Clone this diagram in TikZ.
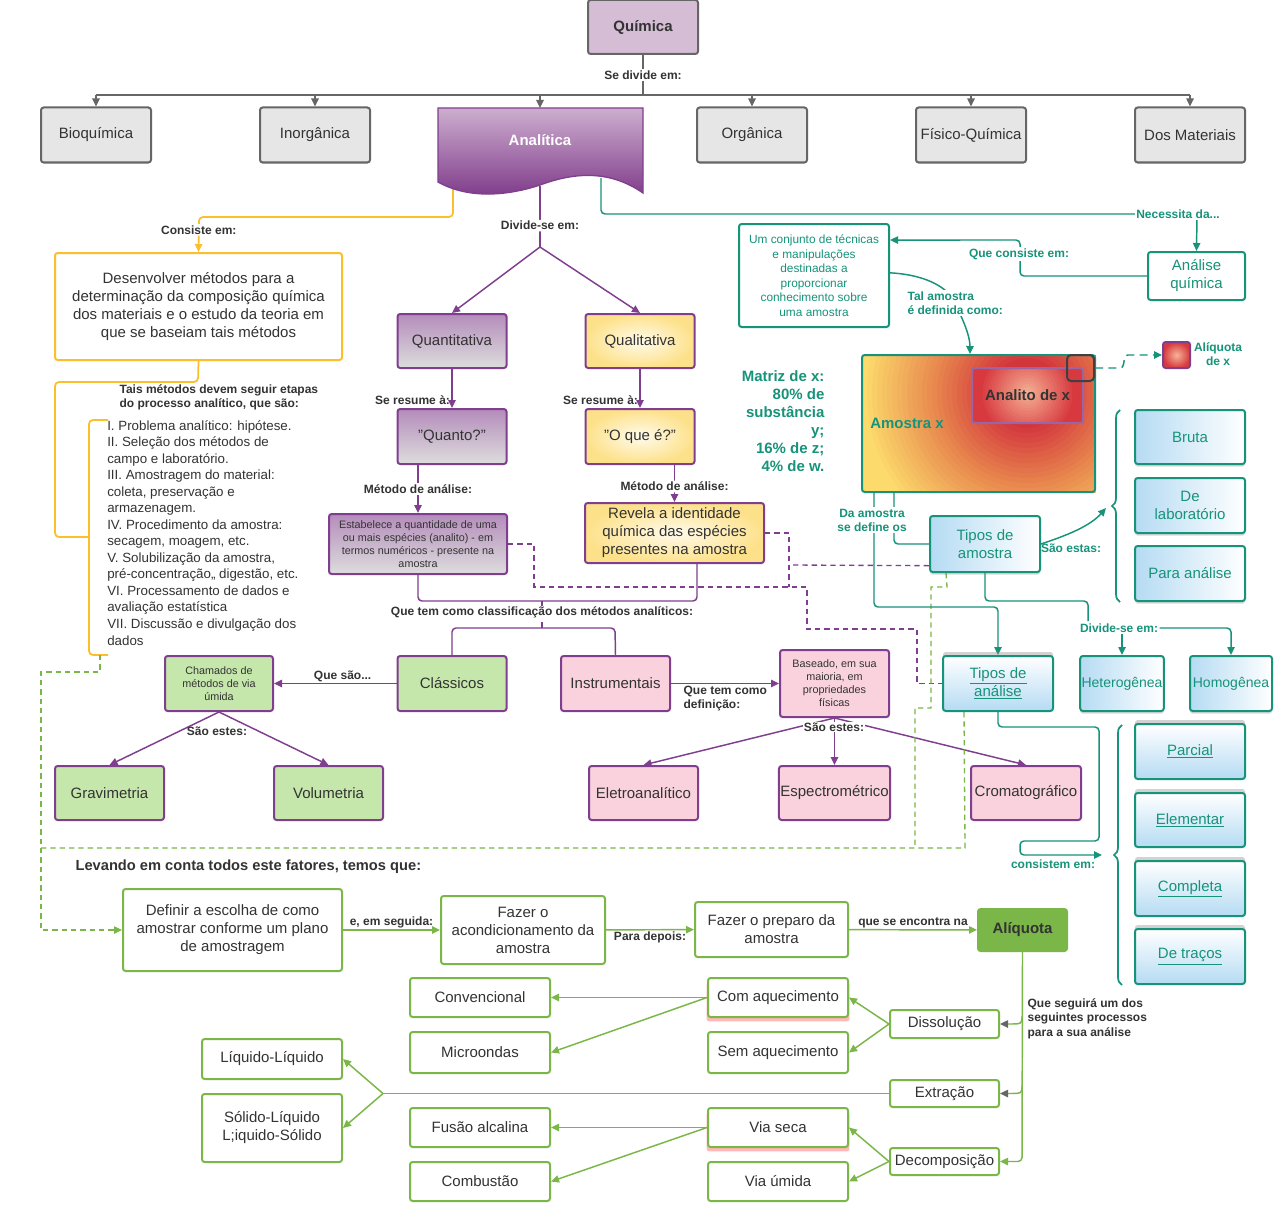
\documentclass[tikz,border=0pt]{standalone}
\usepackage{fontspec}
\setmainfont{Liberation Sans}
\usepackage{tikz}
\usetikzlibrary{calc,positioning,arrows.meta,shadows,backgrounds,decorations.pathreplacing}

\definecolor{purp}{HTML}{7F3F8E}
\definecolor{teal2}{HTML}{17937A}
\definecolor{yel}{HTML}{FBBF2E}
\definecolor{grn}{HTML}{7AB648}
\definecolor{txt}{HTML}{333333}
\definecolor{graybd}{HTML}{666666}
\definecolor{grayfill}{HTML}{E6E6E6}
\definecolor{lilac}{HTML}{D6BDD6}
\definecolor{anatop}{HTML}{CDAECF}
\definecolor{anabot}{HTML}{7C3787}
\definecolor{quanttop}{HTML}{B48CBB}
\definecolor{quantbot}{HTML}{DDDDDD}
\definecolor{qualin}{HTML}{FFFBEC}
\definecolor{qualout}{HTML}{FDE18A}
\definecolor{lgreen}{HTML}{C6E7AB}
\definecolor{pink}{HTML}{F9D2DE}
\definecolor{lblue}{HTML}{B5DBF3}
\definecolor{amred}{HTML}{D3353D}
\definecolor{amorange}{HTML}{E8884E}
\definecolor{amyellow}{HTML}{FCDA6C}
\definecolor{anlin}{HTML}{F6B497}
\definecolor{anlout}{HTML}{D7393F}

\newcommand\boxfont{\fontsize{11.25}{13.5}\selectfont}
\newcommand\smallbox{\fontsize{8.1}{9.7}\selectfont}
\newcommand\lblfont{\fontsize{9}{10.5}\selectfont\bfseries}

\tikzset{
  sz/.style 2 args={minimum width=#1*0.75pt, minimum height=#2*0.75pt},
  box/.style={draw, rounded corners=2pt, line width=1.5pt, align=center, font=\boxfont, text=txt, inner sep=1pt},
  graybox/.style={box, draw=graybd, fill=grayfill},
  quantbox/.style={box, draw=purp, top color=quanttop, bottom color=quantbot},
  qualbox/.style={box, draw=purp, inner color=qualin, outer color=qualout},
  classbox/.style={box, draw=purp, fill=lgreen},
  instbox/.style={box, draw=purp, fill=pink},
  tealbox/.style={box, draw=teal2, fill=white, text=teal2},
  blueside/.style={box, draw=teal2, left color=lblue, right color=white, text=teal2, drop shadow={shadow xshift=0pt, shadow yshift=-2pt, opacity=.3}},
  bluedown/.style={box, draw=teal2, top color=white, bottom color=lblue, text=teal2, drop shadow={shadow xshift=0pt, shadow yshift=3pt, opacity=.35}},
  grnbox/.style={box, draw=grn, fill=white},
  glowbox/.style={grnbox, drop shadow={shadow xshift=0pt, shadow yshift=-3pt, shadow scale=1.02, fill=red!80, opacity=.35}},
  lbl/.style={font=\lblfont, text=txt, inner sep=1pt, align=center},
  tlbl/.style={lbl, text=teal2},
  arr/.style={-{Triangle[length=6pt,width=5.5pt]}},
  grayarr/.style={-{Triangle[length=6pt,width=5.5pt,color=graybd]}},
  kline/.style={draw=graybd, line width=1.1pt},
  pline/.style={draw=purp, line width=1.1pt, rounded corners=3pt},
  pdash/.style={draw=purp, line width=1pt, dash pattern=on 4pt off 3pt},
  tline/.style={draw=teal2, line width=1.1pt, rounded corners=3pt},
  yline/.style={draw=yel, line width=1.3pt, rounded corners=3pt},
  gline/.style={draw=grn, line width=1.1pt, rounded corners=3pt},
  gdash/.style={draw=grn, line width=1pt, dash pattern=on 4pt off 3pt},
  brc/.style={draw=teal2, line width=1.3pt, decorate, decoration={brace, amplitude=6pt}},
}

\begin{document}
\begin{tikzpicture}[x=0.75pt, y=-0.75pt]
        \useasboundingbox (0,0) rectangle (1280,1220);

        \node[graybox, fill=lilac, font=\boxfont\bfseries, sz={110}{54}] (quimica) at (643,27) {Química};
        \node[graybox, sz={110}{55}] (bioq) at (96,135) {Bioquímica};
        \node[graybox, sz={110}{55}] (inorg) at (315,135) {Inorgânica};
        \node[graybox, sz={110}{55}] (orga) at (752,135) {Orgânica};
        \node[graybox, sz={110}{55}] (fisq) at (971,135) {Físico-Química};
        \node[graybox, sz={110}{55}] (dosm) at (1190,135) {Dos Materiais};

        \shade[draw=purp, line width=1pt, top color=anatop, bottom color=anabot] (438,108) -- (643,108) -- (643,193) .. controls (610,170) and (575,172) .. (540,185) .. controls (510,195) and (470,200) .. (438,182) -- cycle;
        \node[font=\boxfont\bfseries, text=white] (analitica) at (540,140) {Analítica};
        \coordinate (anaN) at (540,108);
        \coordinate (anaY) at (453,186);
        \coordinate (anaP) at (540,186);
        \coordinate (anaT) at (601,178);

        \node[box, draw=yel, fill=white, sz={287}{107}] (desenv) at (198.5,306.5) {Desenvolver métodos para a\\determinação da composição química\\dos materiais e o estudo da teoria em\\que se baseiam tais métodos};
        \node[lbl, align=left, anchor=west] (tais) at (118,397) {Tais métodos devem seguir etapas\\do processo analítico, que são:};
        \node[anchor=north west, align=left, font=\fontsize{10}{12.4}\selectfont, text=txt, inner sep=0pt] (etapas) at (107,420) {I. Problema analítico: hipótese.\\II. Seleção dos métodos de\\campo e laboratório.\\III. Amostragem do material:\\coleta, preservação e\\armazenagem.\\IV. Procedimento da amostra:\\secagem, moagem, etc.\\V. Solubilização da amostra,\\pré-concentração,, digestão, etc.\\VI. Processamento de dados e\\avaliação estatística\\VII. Discussão e divulgação dos\\dados};
        \coordinate (etapasb) at (100,655);

        \node[quantbox, sz={109}{54}] (quanti) at (452,341) {Quantitativa};
        \node[quantbox, sz={109}{55}] (quanto) at (452,436.5) {"Quanto?"};
        \node[quantbox, sz={178}{60}, font=\smallbox] (estab) at (418,544) {Estabelece a quantidade de uma\\ou mais espécies (analito) - em\\termos numéricos - presente na\\amostra};
        \node[qualbox, sz={109}{54}] (quali) at (640,341) {Qualitativa};
        \node[qualbox, sz={109}{55}] (oque) at (640,436.5) {"O que é?"};
        \node[qualbox, sz={179}{60}] (revela) at (674.5,533) {Revela a identidade\\química das espécies\\presentes na amostra};
        \coordinate (revb) at (697,563);

        \node[classbox, sz={109}{55}] (classicos) at (452,683.5) {Clássicos};
        \node[instbox, sz={109}{55}] (instr) at (615.5,683.5) {Instrumentais};
        \node[classbox, sz={108}{55}, font=\smallbox] (chamados) at (219,683.5) {Chamados de\\métodos de via\\úmida};
        \node[classbox, sz={109}{54}] (gravi) at (109.5,793) {Gravimetria};
        \node[classbox, sz={109}{54}] (volu) at (328.5,793) {Volumetria};
        \node[instbox, sz={109}{67}, font=\smallbox] (baseado) at (834.5,683.5) {Baseado, em sua\\maioria, em\\propriedades\\físicas};
        \node[instbox, sz={109}{54}] (eletro) at (643.5,793) {Eletroanalítico};
        \node[instbox, sz={109}{54}] (espec) at (834.5,793) {Espectrométrico};
        \node[instbox, sz={110}{54}] (croma) at (1026,793) {Cromatográfico};

        \node[tealbox, sz={150}{103}, font=\fontsize{8.9}{10.9}\selectfont] (umconj) at (814,275.5) {Um conjunto de técnicas\\e manipulações\\destinadas a\\proporcionar\\conhecimento sobre\\uma amostra};
        \node[tealbox, sz={97}{48}] (analq) at (1196.5,276) {Análise\\química};

        \begin{scope}
            \clip (862,355) rectangle (1095,492);
            \fill[amyellow] (862,355) rectangle (1095,492);
            \foreach \r in {175,170,...,0} {
                \pgfmathsetmacro\pa{max(0,min(100,(\r-95)/70*100))}
                \pgfmathsetmacro\pb{max(0,min(100,(\r-35)/60*100))}
                \fill[amyellow!\pa!amorange!\pb!amred] (1027,393) circle[radius=\r*0.75pt];
            }
        \end{scope}
        \node[draw=teal2, line width=1.5pt, rounded corners=2pt, sz={233}{137}] (amostra) at (978.5,423.5) {};
        \node[tlbl, font=\boxfont\bfseries] (amostrax) at (907,423) {Amostra x};
        \begin{scope}
            \clip (972,368) rectangle (1083,423);
            \fill[anlout] (972,368) rectangle (1083,423);
            \foreach \r in {48,45,...,0} {
                \pgfmathsetmacro\pa{max(0,min(100,\r/48*100))}
                \fill[anlout!\pa!anlin] (1027.5,393) circle[radius=\r*0.75pt];
            }
        \end{scope}
        \node[draw=purp!80, line width=1.5pt, rounded corners=2pt, sz={111}{55}, font=\boxfont\bfseries, text=txt] (analito) at (1027.5,395.5) {Analito de x};
        \node[draw=black!75, line width=1.5pt, rounded corners=3pt, sz={27}{26}] (smallsq) at (1080.5,368) {};
        \node[draw=purp, line width=1.5pt, rounded corners=2pt, inner color=anlin, outer color=anlout, sz={27}{26}] (aliqx) at (1176.5,355) {};
        \node[tlbl] (aliqxl) at (1218,354) {Alíquota\\de x};
        \node[tlbl, font=\fontsize{11.25}{13.5}\selectfont\bfseries, align=right, anchor=east] (matriz) at (826,421) {Matriz de x:\\80\% de\\substância\\y;\\16\% de z;\\4\% de w.};
        \coordinate (am1) at (874,492);
        \coordinate (am2) at (894,492);

        \node[blueside, sz={110}{56}] (tiposam) at (985,544) {Tipos de\\amostra};
        \node[blueside, sz={110}{54}] (bruta) at (1190,437) {Bruta};
        \node[blueside, sz={110}{55}] (delab) at (1190,505.5) {De\\laboratório};
        \node[blueside, sz={110}{55}] (paraan) at (1190,573.5) {Para análise};
        \node[bluedown, sz={110}{55}] (tiposan) at (998,683.5) {\underline{Tipos de}\\\underline{análise}};
        \node[blueside, sz={82}{55}, font=\fontsize{10.5}{12.6}\selectfont] (hetero) at (1122,683.5) {Heterogênea};
        \node[blueside, sz={82}{55}, font=\fontsize{10.5}{12.6}\selectfont] (homo) at (1231,683.5) {Homogênea};
        \node[bluedown, sz={110}{55}] (parcial) at (1190,751.5) {\underline{Parcial}};
        \node[bluedown, sz={110}{54}] (elem) at (1190,820) {\underline{Elementar}};
        \node[bluedown, sz={110}{55}] (compl) at (1190,888.5) {\underline{Completa}};
        \node[bluedown, sz={110}{55}] (detr) at (1190,956.5) {\underline{De traços}};

        \node[lbl, font=\fontsize{11}{13}\selectfont\bfseries, anchor=west] (levando) at (74,867) {Levando em conta todos este fatores, temos que:};
        \node[grnbox, sz={219}{82}] (definir) at (232.5,930) {Definir a escolha de como\\amostrar conforme um plano\\de amostragem};
        \node[grnbox, sz={164}{68}] (acond) at (523,930) {Fazer o\\acondicionamento da\\amostra};
        \node[grnbox, sz={153}{55}] (preparo) at (771.5,929.5) {Fazer o preparo da\\amostra};
        \node[box, draw=grn, fill=grn, font=\boxfont\bfseries, sz={89}{42}] (aliquota) at (1022.5,930) {Alíquota};
        \node[lbl, font=\fontsize{9}{10.9}\selectfont\bfseries, align=left, anchor=north west] (processos) at (1026,997) {Que seguirá um dos\\seguintes processos\\para a sua análise};

        \node[grnbox, sz={109}{28}] (dissol) at (944.5,1024) {Dissolução};
        \node[grnbox, sz={109}{27}] (extra) at (944.5,1093.5) {Extração};
        \node[grnbox, sz={109}{27}] (decomp) at (944.5,1161.5) {Decomposição};
        \node[glowbox, sz={140}{39}] (comaq) at (778,997.5) {Com aquecimento};
        \node[grnbox, sz={140}{41}] (semaq) at (778,1052.5) {Sem aquecimento};
        \node[grnbox, sz={140}{39}] (conv) at (480,997.5) {Convencional};
        \node[grnbox, sz={140}{41}] (micro) at (480,1052.5) {Microondas};
        \node[glowbox, sz={140}{39}] (viaseca) at (778,1127.5) {Via seca};
        \node[grnbox, sz={140}{39}] (viaum) at (778,1181.5) {Via úmida};
        \node[grnbox, sz={140}{39}] (fusao) at (480,1127.5) {Fusão alcalina};
        \node[grnbox, sz={140}{39}] (combus) at (480,1181.5) {Combustão};
        \node[grnbox, sz={140}{40}] (liqliq) at (272,1059) {Líquido-Líquido};
        \node[grnbox, sz={140}{68}] (solliq) at (272,1128) {Sólido-Líquido\\L;iquido-Sólido};
        \coordinate (extfork) at (383,1093.5);

        \begin{scope}[on background layer]
            \fill[white] (0,0) rectangle (1280,1220);

            \coordinate (bar) at (643,95);
            \draw[kline] (quimica.south) -- node[lbl, fill=white]{Se divide em:} (bar);
            \draw[kline] (bioq.north |- bar) -- (dosm.north |- bar);
            \foreach \n in {bioq,inorg,orga,fisq,dosm}
                \draw[kline, arr] (\n.north |- bar) -- (\n.north);
            \draw[kline, arr] (anaN |- bar) -- (anaN);

            \draw[yline, arr] (anaY) -- (453,217) -- (199,217) -- node[lbl, fill=white, pos=0.37]{Consiste em:} (desenv.north);
            \draw[yline] (desenv.south) -- (198,382) -- (55,382) -- (55,537) -- (89,537);
            \draw[yline] (108,420) -- (89,420) -- (89,655) -- (108,655);

            \coordinate (divq) at (540,247);
            \draw[pline] (anaP) -- node[lbl, fill=white, pos=0.65]{Divide-se em:} (divq);
            \draw[pline, arr] (divq) -- (quanti.north);
            \draw[pline, arr] (divq) -- (quali.north);
            \draw[pline, arr] (quanti) -- node[lbl, left, pos=0.8]{Se resume à:} (quanto);
            \draw[pline, arr] (quanto.south -| estab.north) -- node[lbl, fill=white]{Método de análise:} (estab.north);
            \draw[pline, arr] (quali) -- node[lbl, left, pos=0.8]{Se resume à:} (oque);
            \draw[pline, arr] (oque.south -| revela.north) -- node[lbl, fill=white, pos=0.58]{Método de análise:} (revela.north);

            \draw[pline] (estab.south) -- (418,601) -- (697,601) -- (revb);
            \draw[pline] (542,601) -- (542,606);
            \node[lbl] (classif) at (542,612.5) {Que tem como classificação dos métodos analíticos:};
            \draw[pline] (542,628) -- (542,622);
            \draw[pline] (classicos.north) -- (452,628) -- (615,628) -- (instr.north);

            \draw[pline, arr] (classicos) -- node[lbl, above, pos=0.44]{Que são...} (chamados);
            \draw[pline, arr] (chamados.south) -- (gravi.north);
            \draw[pline, arr] (chamados.south) -- (volu.north);
            \node[lbl] (saoestes) at (217,731) {São estes:};
            \draw[pline, arr] (instr) -- (baseado);
            \node[lbl, align=left, anchor=north west] (quetem) at (682,685) {Que tem como\\definição:};
            \draw[pline, arr] (baseado.south) -- (eletro.north);
            \draw[pline, arr] (baseado.south) -- (espec.north);
            \draw[pline, arr] (baseado.south) -- (croma.north);
            \node[lbl, fill=white, inner sep=0.5pt] (saoestesb) at (834,727) {São estes:};

            \draw[pdash] (estab.east) -- (534,544) -- (534,587) -- (807,587) -- (807,629) -- (917,629) -- (917,683.5) -- (tiposan.west);
            \draw[pdash] (revela.east) -- (789,533) -- (789,587);
            \draw[pdash] ([yshift=5.5pt]tiposam.south west) -- (789,565);

            \draw[gdash, arr] (etapasb) -- (100,672) -- (41,672) -- (41,930) -- (definir.west);
            \draw[gdash] (41,848) -- (965,848) -- ([xshift=16.5pt]tiposan.south west);
            \draw[gdash] ([xshift=12.75pt]tiposam.south west) -- (947,587) -- (931,587) -- (931,708) -- (915,708) -- (915,848);

            \draw[tline, arr] (anaT) -- (601,214) -- (1197,214) -- (analq.north);
            \node[tlbl, fill=white] (necessita) at (1178,214) {Necessita da...};
            \draw[tline, arr] (analq.west) -- (1020,276) -- (1020,240) -- ([yshift=26.6pt]umconj.east);
            \node[tlbl, fill=white] (consiste) at (1019,254) {Que consiste em:};
            \draw[tline, arr] ([yshift=2pt]umconj.east) .. controls (930,275) and (948,290) .. (955,303) .. controls (962,318) and (970,335) .. ([xshift=-6.4pt]amostra.north);
            \node[tlbl, fill=white, align=left, anchor=west] (talam) at (906,303) {Tal amostra\\é definida como:};
            \draw[tline, dash pattern=on 6pt off 4pt, arr] (smallsq.east) -- (1116,368) .. controls (1126,368) and (1122,355) .. (1132,355) -- (aliqx.west);

            \draw[tline, arr] (am1) -- (874,607) -- (998,607) -- (tiposan.north);
            \draw[tline] (am2) -- (894,544) -- (tiposam.west);
            \node[tlbl, fill=white] (daamostra) at (872,520) {Da amostra\\se define os};

            \draw[tline, arr] (tiposam.east) .. controls (1068,535) and (1090,526) .. (1106,508);
            \node[tlbl] (saoestas) at (1071,548) {São estas:};
            \draw[brc] (1120,602) -- (1120,410);
            \node[tlbl] (divlbl) at (1119,628) {Divide-se em:};
            \draw[tline] (tiposam.south) -- (985,601) -- (1088,601) -- (1088,621);
            \draw[tline, arr] (divlbl.south -| hetero.north) -- (hetero.north);
            \draw[tline, arr] (divlbl.east) -| (homo.north);
            \draw[tline, arr] (tiposan.south) -- (998,727) -- (1099,727) -- (1099,841) -- (1020,841) -- (1020,855) -- (1102,855);
            \node[tlbl] (consistem) at (1053,864) {consistem em:};
            \draw[brc] (1122,985) -- (1122,725);

            \draw[gline, arr] (definir) -- node[lbl, above]{e, em seguida:} (acond);
            \draw[gline, arr] (acond) -- node[lbl, below]{Para depois:} (preparo);
            \draw[gline, arr] (preparo) -- node[lbl, above]{que se encontra na} (aliquota);
            \draw[gline, arr] (aliquota.south) -- (1022,1161.5) -- (decomp.east);
            \draw[gline, grayarr] (1022,1016) .. controls (1022,1024) .. (dissol.east);
            \draw[gline, grayarr] (1022,1086) .. controls (1022,1093.5) .. (extra.east);

            \draw[gline, arr] (dissol.west) -- (comaq.east);
            \draw[gline, arr] (dissol.west) -- (semaq.east);
            \draw[gline, arr] (comaq.west) -- (conv.east);
            \draw[gline, arr] (comaq.west) -- (micro.east);
            \draw[gline, arr] (decomp.west) -- (viaseca.east);
            \draw[gline, arr] (decomp.west) -- (viaum.east);
            \draw[gline, arr] (viaseca.west) -- (fusao.east);
            \draw[gline, arr] (viaseca.west) -- (combus.east);
            \draw[gline] (extra.west) -- (extfork);
            \draw[gline, arr] (extfork) -- (liqliq.east);
            \draw[gline, arr] (extfork) -- (solliq.east);
        \end{scope}
    \end{tikzpicture}
\end{document}
